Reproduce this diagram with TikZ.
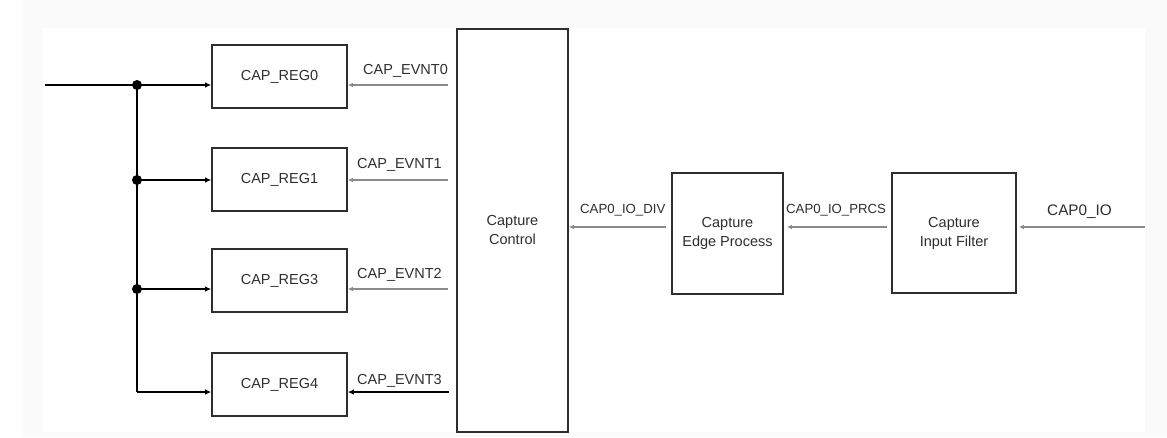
\documentclass[tikz,border=0pt]{standalone}
\usepackage{fontspec}
\setmainfont{Liberation Sans}
\usetikzlibrary{arrows.meta}
\definecolor{bggray}{HTML}{FAFAFA}
\definecolor{ink}{HTML}{2E2E2E}
\definecolor{wire}{HTML}{8A8A8A}
\tikzset{
  blk/.style={draw=ink, line width=1.6pt, inner sep=0pt, align=center, text=ink, font=\fontsize{14.5}{19}\selectfont},
  regbox/.style={blk, minimum width=135pt, minimum height=63pt},
  grayarrow/.style={draw=wire, line width=1.1pt, -{Latex[length=5pt,width=4.5pt]}},
  blackarrow/.style={draw=black, line width=1.9pt, -{Latex[length=6pt,width=5.5pt]}},
  busline/.style={draw=black, line width=1.9pt},
  lbl/.style={text=ink, inner sep=0pt, font=\fontsize{14.5}{17}\selectfont},
  smalllbl/.style={text=ink, inner sep=0pt, font=\fontsize{13.2}{16}\selectfont},
  junction/.style={circle, fill=black, inner sep=0pt, minimum size=10pt},
}
\begin{document}
\begin{tikzpicture}[x=1pt,y=-1pt]
\useasboundingbox (0,0) rectangle (1167,437);
\fill[white] (0,0) rectangle (1167,437);
\fill[bggray] (23,0) rectangle (1167,437);
\fill[white] (43,28) rectangle (1145,432);

% blocks
\node[regbox] (reg0) at (279.5,76.5) {CAP\_REG0};
\node[regbox] (reg1) at (279.5,179.5) {CAP\_REG1};
\node[regbox] (reg3) at (279.5,280.5) {CAP\_REG3};
\node[regbox] (reg4) at (279.5,384.5) {CAP\_REG4};
\node[blk, minimum width=111pt, minimum height=403pt] (ctrl) at (512.5,230.5) {Capture\\Control};
\node[blk, minimum width=111pt, minimum height=121pt] (edge) at (727.5,233.5) {Capture\\Edge Process};
\node[blk, minimum width=124pt, minimum height=120pt] (filt) at (954,233) {Capture\\Input Filter};

% levels
\coordinate (y0) at (0,85);
\coordinate (y1) at (0,180);
\coordinate (y3) at (0,289);
\coordinate (y4) at (0,392);
\coordinate (ym) at (0,227);
\coordinate (in) at (45,85);
\coordinate (ioin) at (1145,227);

% left bus
\node[junction] (j0) at (137,85) {};
\node[junction] (j1) at (137,180) {};
\node[junction] (j3) at (137,289) {};
\coordinate (j4) at (137,392);
\draw[busline] (in) -- (j0.center);
\draw[busline] (j0.center) -- (j4);
\draw[blackarrow] (j0.center) -- (reg0.west |- y0);
\draw[blackarrow] (j1.center) -- (reg1.west |- y1);
\draw[blackarrow] (j3.center) -- (reg3.west |- y3);
\draw[blackarrow] (j4) -- (reg4.west |- y4);

% event arrows
\draw[grayarrow, shorten <=8pt] (ctrl.west |- y0) -- (reg0.east |- y0);
\draw[grayarrow, shorten <=8pt] (ctrl.west |- y1) -- (reg1.east |- y1);
\draw[grayarrow, shorten <=8pt] (ctrl.west |- y3) -- (reg3.east |- y3);
\draw[blackarrow, shorten <=7pt] (ctrl.west |- y4) -- (reg4.east |- y4);
\node[lbl, anchor=base west] (e0) at (363,74) {CAP\_EVNT0};
\node[lbl, anchor=base west] (e1) at (357,168) {CAP\_EVNT1};
\node[lbl, anchor=base west] (e2) at (357,278) {CAP\_EVNT2};
\node[lbl, anchor=base west] (e3) at (357,384) {CAP\_EVNT3};

% right chain
\draw[grayarrow, shorten <=5pt] (edge.west |- ym) -- (ctrl.east |- ym);
\draw[grayarrow, shorten <=4pt, shorten >=3pt] (filt.west |- ym) -- (edge.east |- ym);
\draw[grayarrow, shorten >=2pt] (ioin) -- (filt.east |- ym);
\node[smalllbl, anchor=base west] (l1) at (580,213) {CAP0\_IO\_DIV};
\node[smalllbl, anchor=base west] (l2) at (786,213) {CAP0\_IO\_PRCS};
\node[lbl, font=\fontsize{15.3}{18}\selectfont, anchor=base west] (l3) at (1047,215) {CAP0\_IO};
\end{tikzpicture}
\end{document}
